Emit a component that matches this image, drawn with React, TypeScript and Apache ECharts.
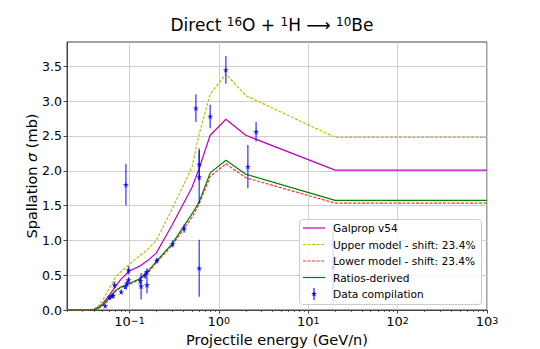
import React, { useEffect, useRef } from "react";
import * as echarts from "echarts";

// Model curves (energy in GeV/n, cross-section in mb)
const modelEnergy = [0.02, 0.035, 0.04, 0.045, 0.05, 0.06, 0.07, 0.08, 0.1, 0.13, 0.16, 0.2, 0.3, 0.5, 0.6, 0.8, 1.2, 2, 20, 1000];
const galprop = [0, 0, 0.01, 0.04, 0.09, 0.22, 0.34, 0.44, 0.56, 0.63, 0.71, 0.82, 1.22, 1.76, 2.03, 2.51, 2.74, 2.51, 2.01, 2.01];
const upperModel = [0, 0, 0.01, 0.06, 0.14, 0.32, 0.47, 0.55, 0.66, 0.78, 0.87, 1.0, 1.45, 2.05, 2.52, 3.1, 3.39, 3.08, 2.48, 2.48];
const lowerModel = [0, 0, 0.005, 0.025, 0.06, 0.16, 0.27, 0.32, 0.37, 0.44, 0.53, 0.68, 0.93, 1.33, 1.52, 1.92, 2.1, 1.9, 1.535, 1.535];
const ratiosDerived = [0, 0, 0.005, 0.03, 0.07, 0.18, 0.28, 0.33, 0.38, 0.45, 0.55, 0.7, 0.95, 1.38, 1.55, 1.97, 2.15, 1.95, 1.575, 1.575];

// Data compilation
const dataEnergy = [0.0535, 0.0597, 0.0635, 0.0658, 0.068, 0.0808, 0.0902, 0.0935, 0.0975, 0.0975, 0.0912, 0.132, 0.135, 0.15, 0.157, 0.157, 0.202, 0.303, 0.409, 0.553, 0.603, 0.603, 0.603, 0.8, 1.197, 2.11, 2.61, 19.0];
const dataValue = [0.06, 0.18, 0.2, 0.21, 0.36, 0.26, 0.33, 0.38, 0.43, 0.57, 1.8, 0.42, 0.34, 0.5, 0.55, 0.36, 0.71, 0.95, 1.17, 2.9, 2.09, 1.91, 0.6, 2.78, 3.45, 2.06, 2.56, 0.62];
const dataError = [0.02, 0.03, 0.03, 0.03, 0.05, 0.03, 0.03, 0.04, 0.04, 0.06, 0.3, 0.06, 0.19, 0.05, 0.05, 0.12, 0.04, 0.05, 0.06, 0.2, 0.23, 0.38, 0.41, 0.17, 0.2, 0.31, 0.14, 0.52];

// Axis ticks
const xMajorExp = [-1, 0, 1, 2, 3];
const yTicks = [0, 0.5, 1, 1.5, 2, 2.5, 3, 3.5];
const xMinEnergy = 0.02;
const xMaxEnergy = 1000;
const yMax = 3.85;

const FONT = "DejaVu Sans";
const STAR = "path://M0,-1 L0.2245,-0.309 L0.951,-0.309 L0.363,0.118 L0.588,0.809 L0,0.382 L-0.588,0.809 L-0.363,0.118 L-0.951,-0.309 L-0.2245,-0.309 Z";

function minorTicks(): number[] {
  const out: number[] = [];
  for (let d = -2; d <= 2; d++) {
    for (let m = 2; m <= 9; m++) {
      const v = Math.log10(m * Math.pow(10, d));
      if (v >= Math.log10(xMinEnergy) && v <= Math.log10(xMaxEnergy)) out.push(v);
    }
  }
  return out;
}

const line = (e: number[], v: number[]) => e.map((x, i) => [Math.log10(x), v[i]]);

export default function App() {
  const ref = useRef<HTMLDivElement>(null);
  useEffect(() => {
    if (!ref.current) return;
    const chart = echarts.init(ref.current, undefined, { renderer: "svg" });
    const xmin = Math.log10(xMinEnergy);
    const xmax = Math.log10(xMaxEnergy);
    const lx1 = 303, lx2 = 325, tx = 333;
    const rows = [228, 244.5, 261, 277.5, 294];
    const legendText = ["Galprop v54", "Upper model - shift: 23.4%", "Lower model - shift: 23.4%", "Ratios-derived", "Data compilation"];
    const legendEls: any[] = [
      { type: "rect", z: 100, shape: { x: 299.5, y: 219.5, width: 182, height: 85, r: 3 }, style: { fill: "rgba(255,255,255,0.8)", stroke: "#cccccc", lineWidth: 1 } },
      { type: "line", z: 101, shape: { x1: lx1, y1: rows[0], x2: lx2, y2: rows[0] }, style: { stroke: "#bf00bf", lineWidth: 1.2 } },
      { type: "line", z: 101, shape: { x1: lx1, y1: rows[1], x2: lx2, y2: rows[1] }, style: { stroke: "#bfbf00", lineWidth: 1.2, lineDash: [3, 1.5] } },
      { type: "line", z: 101, shape: { x1: lx1, y1: rows[2], x2: lx2, y2: rows[2] }, style: { stroke: "#ff3030", lineWidth: 1.2, lineDash: [3, 1.5] } },
      { type: "line", z: 101, shape: { x1: lx1, y1: rows[3], x2: lx2, y2: rows[3] }, style: { stroke: "#008000", lineWidth: 1.2 } },
      { type: "line", z: 101, shape: { x1: 314, y1: rows[4] - 6, x2: 314, y2: rows[4] + 6 }, style: { stroke: "rgba(0,0,255,0.7)", lineWidth: 1.5 } },
      { type: "polygon", z: 102, shape: { points: [[0, -1], [0.2245, -0.309], [0.951, -0.309], [0.363, 0.118], [0.588, 0.809], [0, 0.382], [-0.588, 0.809], [-0.363, 0.118], [-0.951, -0.309], [-0.2245, -0.309]].map((p) => [314 + p[0] * 3, rows[4] + p[1] * 3]) }, style: { fill: "#0000ff" } },
    ];
    legendText.forEach((t, i) => {
      legendEls.push({ type: "text", z: 101, style: { text: t, x: tx, y: rows[i], fill: "#000", font: `10.6px '${FONT}'`, verticalAlign: "middle" } });
    });

    chart.setOption({
      animation: false,
      backgroundColor: "#ffffff",
      textStyle: { fontFamily: FONT },
      title: {
        text: "Direct {s|16}O + {s|1}H ⟶ {s|10}Be",
        left: 267,
        textAlign: "center",
        top: 11,
        textStyle: {
          fontFamily: FONT,
          fontSize: 17,
          fontWeight: "normal",
          color: "#000",
          rich: { s: { fontFamily: FONT, fontSize: 12, verticalAlign: "top", color: "#000", padding: [0, 0, 6, 0] } },
        },
      },
      grid: { left: 67, right: 53, top: 42, bottom: 39, outerBoundsMode: "none", containLabel: false, show: true, borderColor: "#444", borderWidth: 1, backgroundColor: "transparent" },
      xAxis: [
        {
          type: "value",
          min: xmin,
          max: xmax,
          position: "bottom",
          name: "Projectile energy (GeV/n)",
          nameLocation: "middle",
          nameGap: 21,
          nameTextStyle: { fontFamily: FONT, fontSize: 14.5, color: "#000" },
          axisLine: { show: true, onZero: false, lineStyle: { color: "#444", width: 1 } },
          axisTick: { show: true, length: 3.5, customValues: xMajorExp, lineStyle: { color: "#444" } },
          axisLabel: {
            customValues: xMajorExp,
            margin: 5,
            color: "#000",
            formatter: (v: number) => `{b|10}{s|${v < 0 ? "−" : ""}${Math.abs(Math.round(v))}}`,
            rich: {
              b: { fontFamily: FONT, fontSize: 13, color: "#000" },
              s: { fontFamily: FONT, fontSize: 9.5, color: "#000", verticalAlign: "top" },
            },
          },
          splitLine: { show: true, lineStyle: { color: "#cfcfcf", width: 1 } },
        },
        {
          type: "value",
          min: xmin,
          max: xmax,
          position: "bottom",
          axisLine: { show: false, onZero: false },
          axisTick: { show: true, length: 2, customValues: minorTicks(), lineStyle: { color: "#444", width: 0.8 } },
          axisLabel: { show: false },
          splitLine: { show: false },
        },
      ],
      yAxis: {
        type: "value",
        min: 0,
        max: yMax,
        position: "left",
        name: "Spallation {i|σ} (mb)",
        nameLocation: "middle",
        nameGap: 28,
        nameMoveOverlap: false,
        nameRotate: 90,
        nameTextStyle: {
          fontFamily: FONT,
          fontSize: 14.5,
          color: "#000",
          rich: { i: { fontFamily: FONT, fontSize: 14.5, fontStyle: "italic", color: "#000" } },
        },
        axisLine: { show: true, onZero: false, lineStyle: { color: "#444", width: 1 } },
        axisTick: { show: true, length: 3.5, customValues: yTicks, lineStyle: { color: "#444" } },
        axisLabel: {
          customValues: yTicks,
          margin: 5,
          fontFamily: FONT,
          fontSize: 12.5,
          color: "#000",
          formatter: (v: number) => v.toFixed(1),
        },
        splitLine: { show: true, lineStyle: { color: "#cfcfcf", width: 1 } },
      },
      series: [
        { name: "Galprop v54", type: "line", data: line(modelEnergy, galprop), symbol: "none", lineStyle: { color: "#bf00bf", width: 1.2 }, z: 3 },
        { name: "Upper model - shift: 23.4%", type: "line", data: line(modelEnergy, upperModel), symbol: "none", lineStyle: { color: "#bfbf00", width: 1.2, type: [3, 1.5] }, z: 3 },
        { name: "Lower model - shift: 23.4%", type: "line", data: line(modelEnergy, lowerModel), symbol: "none", lineStyle: { color: "#ff3030", width: 1.2, type: [3, 1.5] }, z: 3 },
        { name: "Ratios-derived", type: "line", data: line(modelEnergy, ratiosDerived), symbol: "none", lineStyle: { color: "#008000", width: 1.2 }, z: 3 },
        {
          name: "Data compilation",
          type: "custom",
          z: 4,
          data: dataEnergy.map((e, i) => [Math.log10(e), dataValue[i], dataError[i]]),
          encode: { x: 0, y: 1 },
          renderItem: (params: any, api: any) => {
            const x = api.value(0);
            const y = api.value(1);
            const e = api.value(2);
            const p1 = api.coord([x, y - e]);
            const p2 = api.coord([x, y + e]);
            return {
              type: "line",
              shape: { x1: p1[0], y1: p1[1], x2: p2[0], y2: p2[1] },
              style: { stroke: "rgba(0,0,255,0.65)", lineWidth: 1.5 },
            };
          },
        },
        {
          name: "Data markers",
          type: "scatter",
          z: 5,
          data: dataEnergy.map((e, i) => [Math.log10(e), dataValue[i]]),
          symbol: STAR,
          symbolSize: 6,
          itemStyle: { color: "#0000ff" },
        },
      ],
      graphic: { elements: legendEls },
    });
    return () => chart.dispose();
  }, []);
  return <div ref={ref} style={{ width: 540, height: 349, position: "absolute", left: 0, top: 0 }} />;
}
